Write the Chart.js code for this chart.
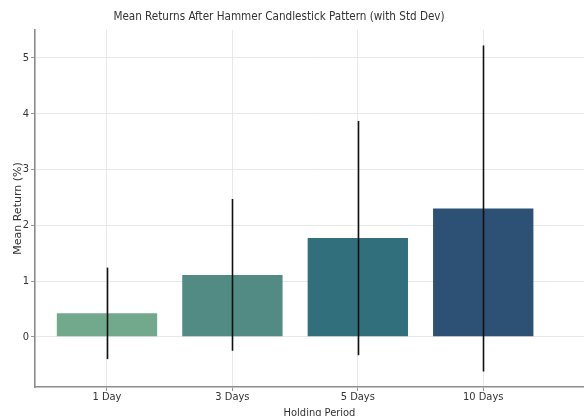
<!DOCTYPE html>
<html><head><meta charset="utf-8">
<script src="https://cdn.jsdelivr.net/npm/chart.js@4.4.1/dist/chart.umd.min.js"></script>
<style>
html,body{margin:0;padding:0;background:#fff;overflow:hidden;}
#wrap{width:584px;height:416px;overflow:hidden;position:relative;}
#box{width:604px;height:420px;position:absolute;left:0;top:0;}
</style></head>
<body><div id="wrap"><div id="box"><canvas id="c"></canvas></div></div>
<script>
const categories = ["1 Day", "3 Days", "5 Days", "10 Days"];
const meanReturns = [0.42, 1.11, 1.77, 2.30];
const stdDevs = [0.82, 1.36, 2.10, 2.92];
const barColors = ["#72a98c", "#518b83", "#316f7c", "#2c5175"];
const yTicks = [0, 1, 2, 3, 4, 5];
const titleText = 'Mean Returns After Hammer Candlestick Pattern (with Std Dev)';

const FONT = "'DejaVu Sans Condensed', 'DejaVu Sans', sans-serif";

const errorBars = {
  id: 'errorBars',
  afterDatasetsDraw(chart) {
    const ctx = chart.ctx, xs = chart.scales.x, ys = chart.scales.y;
    ctx.save();
    ctx.strokeStyle = '#111';
    ctx.lineWidth = 1.6;
    meanReturns.forEach((m, i) => {
      const x = Math.round(xs.getPixelForValue(i)) + 0.5;
      ctx.beginPath();
      ctx.moveTo(x, ys.getPixelForValue(m - stdDevs[i]));
      ctx.lineTo(x, ys.getPixelForValue(m + stdDevs[i]));
      ctx.stroke();
    });
    ctx.restore();
  }
};

const titleDraw = {
  id: 'titleDraw',
  afterDraw(chart) {
    const ctx = chart.ctx;
    ctx.save();
    ctx.fillStyle = '#333';
    ctx.font = "11.6px " + FONT;
    ctx.textAlign = 'center';
    ctx.textBaseline = 'middle';
    ctx.fillText(titleText, 279, 17);
    ctx.restore();
  }
};

new Chart(document.getElementById('c'), {
  type: 'bar',
  data: {
    datasets: [{
      data: meanReturns.map((v, i) => ({x: i, y: v})),
      backgroundColor: barColors,
      borderWidth: 0,
      categoryPercentage: 1.0,
      barPercentage: 0.8
    }]
  },
  options: {
    responsive: true,
    maintainAspectRatio: false,
    animation: false,
    devicePixelRatio: 1,
    layout: {padding: {top: 30, left: 0, right: 0, bottom: 0}},
    plugins: {
      legend: {display: false},
      tooltip: {enabled: false},
      title: {display: false}
    },
    scales: {
      x: {
        type: 'linear',
        offset: false,
        min: -0.574,
        max: 3.963,
        afterBuildTicks(s) { s.ticks = categories.map((_, i) => ({value: i})); },
        afterFit(s) { s.height = 33; },
        ticks: {
          callback: (v) => categories[v],
          color: '#333',
          font: {family: FONT, size: 11},
          padding: 0,
          maxRotation: 0,
          autoSkip: false
        },
        grid: {offset: false, color: '#e8e8e8', lineWidth: 1, tickLength: 4, tickColor: '#999', drawTicks: true},
        border: {display: true, color: '#8c8c8c', width: 1.6},
        title: {display: true, text: 'Holding Period', color: '#333', font: {family: FONT, size: 11}, padding: {top: 0, bottom: 0}}
      },
      y: {
        min: -0.9,
        max: 5.5,
        afterBuildTicks(s) { s.ticks = yTicks.map(v => ({value: v})); },
        afterFit(s) { s.width = 35; },
        ticks: {
          color: '#333',
          font: {family: FONT, size: 11},
          padding: 2
        },
        grid: {color: '#e8e8e8', lineWidth: 1, tickLength: 4, tickColor: '#999'},
        border: {display: true, color: '#8c8c8c', width: 1.6},
        title: {display: true, text: 'Mean Return (%)', color: '#333', font: {family: "'DejaVu Sans', sans-serif", size: 11}, padding: {top: 12, bottom: 0}}
      }
    }
  },
  plugins: [errorBars, titleDraw]
});
</script></body></html>
